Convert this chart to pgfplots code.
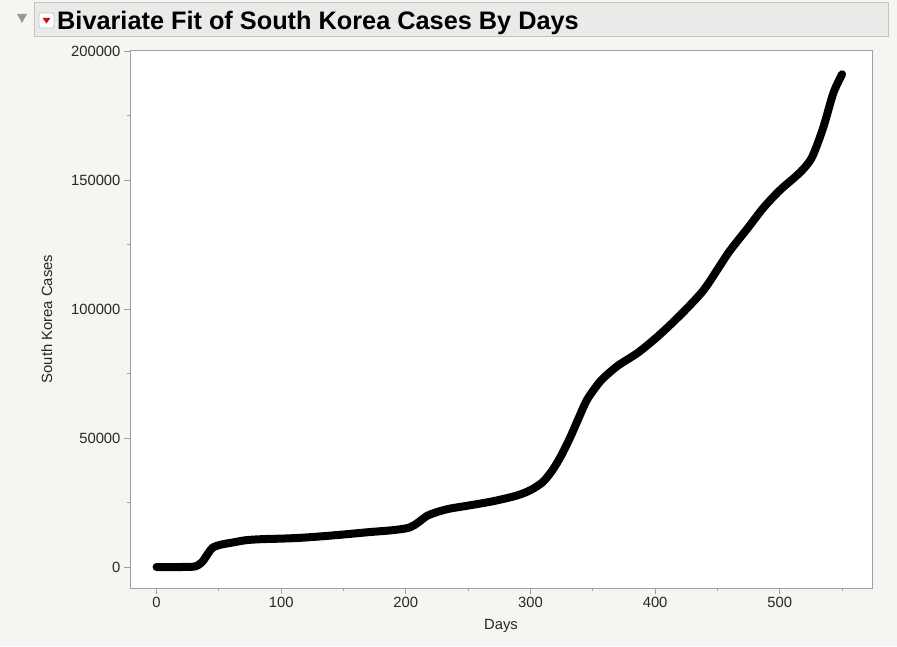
\documentclass[border=0pt]{standalone}
\usepackage{fontspec}
\setmainfont{Liberation Sans}
\usepackage{pgfplots}
\pgfplotsset{compat=1.18}
\definecolor{bgc}{HTML}{F5F5F1}
\definecolor{barc}{HTML}{EAEAE8}
\definecolor{barb}{HTML}{C4C4C2}
\definecolor{axc}{HTML}{A0A0A0}
\definecolor{redc}{HTML}{C41420}
\begin{document}
\begin{tikzpicture}
\path[use as bounding box] (0pt,0pt) rectangle (897pt,646pt);
\fill[bgc] (0pt,0pt) rectangle (897pt,646pt);
\fill[barc,draw=barb,line width=1pt] (34pt,643pt) rectangle (888pt,609pt);
\fill[gray!80] (17pt,632pt) -- (27pt,632pt) -- (22pt,623pt) -- cycle;
\draw[barb,fill=white,rounded corners=2pt,line width=0.8pt] (39pt,633pt) rectangle (54pt,618pt);
\fill[redc] (42.5pt,628pt) -- (50.5pt,628pt) -- (46.5pt,622.5pt) -- cycle;
\node[anchor=base west,inner sep=0pt,font=\fontsize{25.3}{28}\selectfont\bfseries] at (57pt,616pt) {Bivariate Fit of South Korea Cases By Days};
\begin{axis}[
  at={(130pt,58pt)}, anchor=south west,
  scale only axis, width=742pt, height=538pt,
  xmin=-21.3, xmax=574, ymin=-8140, ymax=200400,
  axis background/.style={fill=white},
  axis line style={axc, line width=0.8pt},
  tick pos=left, tick align=outside,
  major tick length=6pt, minor tick length=3pt,
  every tick/.style={axc, line width=0.8pt},
  xtick={0,100,200,300,400,500}, minor xtick={50,150,250,350,450,550},
  xticklabels={0,100,200,300,400,500},
  ytick={0,50000,100000,150000,200000}, minor ytick={25000,75000,125000,175000},
  yticklabels={0,50000,100000,150000,200000},
  scaled y ticks=false, scaled x ticks=false,
  tick label style={font=\fontsize{14.8}{17}\selectfont, text=black!85},
  xlabel={Days}, ylabel={South Korea Cases},
  label style={font=\fontsize{14.8}{17}\selectfont, text=black!85},
  xlabel style={at={(axis description cs:0.5,-0.078)}, anchor=base},
  ylabel style={at={(axis description cs:-0.112,0.5)}, anchor=center},
]
\addplot[black, line width=8pt, line cap=round, line join=round, smooth, tension=0.5] coordinates {
(0,0) (10,0) (20,0) (29,100) (33,600) (37,2200) (41,5000) (45,7500) (52,8700) (60,9400) (72,10400) (85,10800) (100,11000) (115,11300) (130,11800) (150,12600) (170,13500) (190,14300) (203,15300) (210,17300) (217,19800) (225,21300) (235,22600) (250,23800) (270,25500) (289,27700) (300,29800) (310,33000) (318,37800) (325,43500) (332,50400) (338,57000) (345,64500) (352,69500) (358,73000) (370,78000) (386,83000) (400,88500) (412,93800) (425,100000) (439,107400) (452,116800) (460,122600) (475,131800) (487,139300) (500,146000) (514,151900) (522,156000) (527,160000) (535,170500) (543,183700) (550,191000)
};
\end{axis}
\end{tikzpicture}
\end{document}
